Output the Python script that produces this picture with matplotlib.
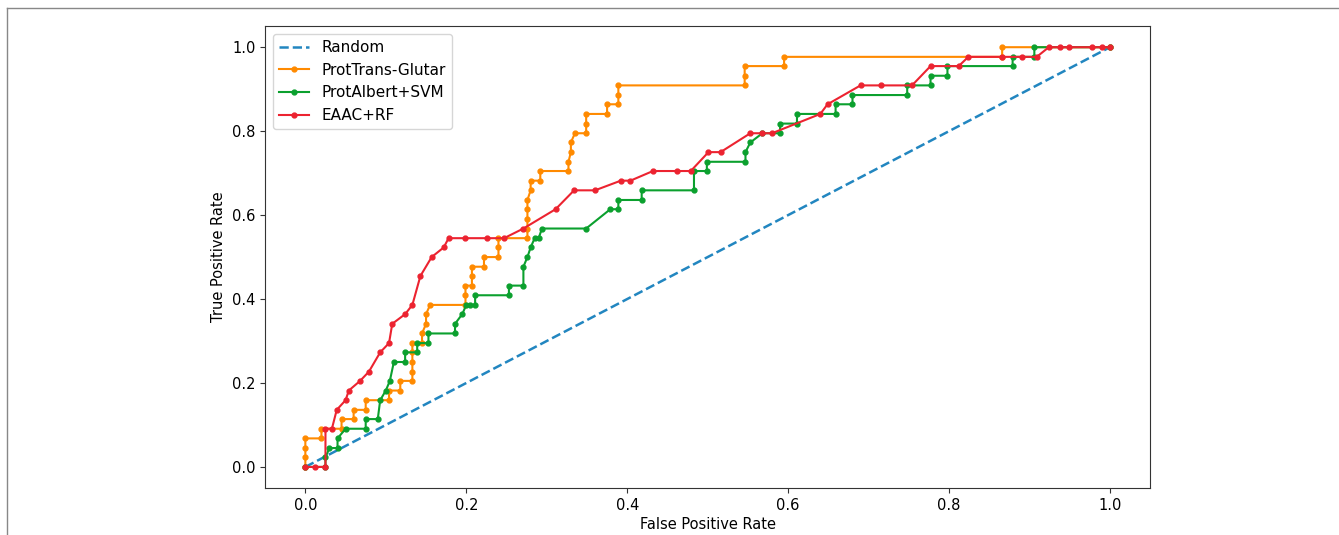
import matplotlib
matplotlib.use('Agg')
import matplotlib.pyplot as plt
from matplotlib.lines import Line2D

# --------------- ROC points -----------------------------------------

random_fpr = [0.0, 1.0]
random_tpr = [0.0, 1.0]

prottrans_fpr = [0.0, 0.0, 0.0, 0.0, 0.02, 0.02, 0.045, 0.045, 0.06, 0.06, 0.075, 0.075,
                 0.104, 0.104, 0.118, 0.118, 0.133, 0.133, 0.133, 0.133, 0.133, 0.145, 0.145,
                 0.15, 0.15, 0.155, 0.199, 0.199, 0.199, 0.207, 0.207, 0.207, 0.222, 0.222,
                 0.24, 0.24, 0.24, 0.276, 0.276, 0.276, 0.276, 0.276, 0.28, 0.28, 0.292, 0.292,
                 0.327, 0.327, 0.33, 0.33, 0.335, 0.349, 0.349, 0.349, 0.375, 0.375, 0.389,
                 0.389, 0.389, 0.546, 0.546, 0.546, 0.595, 0.595, 0.866, 0.866, 1.0]
prottrans_tpr = [0.0, 0.023, 0.045, 0.068, 0.068, 0.091, 0.091, 0.114, 0.114, 0.136, 0.136, 0.159,
                 0.159, 0.182, 0.182, 0.205, 0.205, 0.227, 0.25, 0.273, 0.295, 0.295, 0.318,
                 0.341, 0.364, 0.386, 0.386, 0.409, 0.432, 0.432, 0.455, 0.477, 0.477, 0.5,
                 0.5, 0.523, 0.545, 0.545, 0.568, 0.591, 0.614, 0.636, 0.659, 0.682, 0.682, 0.705,
                 0.705, 0.727, 0.75, 0.773, 0.795, 0.795, 0.818, 0.841, 0.841, 0.864, 0.864,
                 0.886, 0.909, 0.909, 0.932, 0.955, 0.955, 0.977, 0.977, 1.0, 1.0]

protalbert_fpr = [0.0, 0.025, 0.025, 0.03, 0.04, 0.04, 0.05, 0.075, 0.075, 0.09, 0.093, 0.1,
                  0.105, 0.11, 0.124, 0.124, 0.139, 0.139, 0.153, 0.153, 0.186, 0.186, 0.195,
                  0.2, 0.205, 0.211, 0.211, 0.253, 0.253, 0.271, 0.271, 0.276, 0.28, 0.285,
                  0.29, 0.294, 0.349, 0.379, 0.389, 0.389, 0.418, 0.418, 0.483, 0.483, 0.499,
                  0.499, 0.547, 0.547, 0.553, 0.568, 0.59, 0.59, 0.611, 0.611, 0.659, 0.659,
                  0.68, 0.68, 0.748, 0.748, 0.777, 0.777, 0.798, 0.798, 0.879, 0.879, 0.906,
                  0.906, 1.0]
protalbert_tpr = [0.0, 0.0, 0.023, 0.045, 0.045, 0.068, 0.091, 0.091, 0.114, 0.114, 0.159, 0.182,
                  0.205, 0.25, 0.25, 0.273, 0.273, 0.295, 0.295, 0.318, 0.318, 0.341, 0.364,
                  0.386, 0.386, 0.386, 0.409, 0.409, 0.432, 0.432, 0.477, 0.5, 0.523, 0.545,
                  0.545, 0.568, 0.568, 0.614, 0.614, 0.636, 0.636, 0.659, 0.659, 0.705, 0.705,
                  0.727, 0.727, 0.75, 0.773, 0.795, 0.795, 0.818, 0.818, 0.841, 0.841, 0.864,
                  0.864, 0.886, 0.886, 0.909, 0.909, 0.932, 0.932, 0.955, 0.955, 0.977, 0.977,
                  1.0, 1.0]

eaac_fpr = [0.0, 0.012, 0.025, 0.025, 0.033, 0.039, 0.05, 0.054, 0.068, 0.079, 0.093, 0.104,
            0.108, 0.124, 0.133, 0.143, 0.157, 0.172, 0.178, 0.199, 0.226, 0.247, 0.271,
            0.311, 0.334, 0.36, 0.392, 0.404, 0.432, 0.462, 0.479, 0.501, 0.516, 0.553, 0.568,
            0.58, 0.64, 0.649, 0.69, 0.715, 0.754, 0.777, 0.812, 0.824, 0.866, 0.891, 0.909,
            0.924, 0.938, 0.949, 0.978, 0.99, 1.0]
eaac_tpr = [0.0, 0.0, 0.0, 0.091, 0.091, 0.136, 0.159, 0.182, 0.205, 0.227, 0.273, 0.295,
            0.341, 0.364, 0.386, 0.455, 0.5, 0.523, 0.545, 0.545, 0.545, 0.545, 0.568,
            0.614, 0.659, 0.659, 0.682, 0.682, 0.705, 0.705, 0.705, 0.75, 0.75, 0.795, 0.795,
            0.795, 0.841, 0.864, 0.909, 0.909, 0.909, 0.955, 0.955, 0.977, 0.977, 0.977, 0.977,
            1.0, 1.0, 1.0, 1.0, 1.0, 1.0]


def plot_roc():

    fig = plt.figure(figsize=(13.39, 5.35), dpi=100)
    ax = fig.add_axes([0.198, 0.088, 0.661, 0.863])

    ax.plot(random_fpr, random_tpr, linestyle='--', color='#2286c0', linewidth=1.8, label='Random')
    ax.plot(prottrans_fpr, prottrans_tpr, marker='.', color='#ff8a00', linewidth=1.5,
            markersize=7, label='ProtTrans-Glutar')
    ax.plot(protalbert_fpr, protalbert_tpr, marker='.', color='#0ba02e', linewidth=1.5,
            markersize=7, label='ProtAlbert+SVM')
    ax.plot(eaac_fpr, eaac_tpr, marker='.', color='#ec2330', linewidth=1.5,
            markersize=7, label='EAAC+RF')

    ax.set_xlim(-0.05, 1.05)
    ax.set_ylim(-0.05, 1.05)
    ax.set_xticks([0.0, 0.2, 0.4, 0.6, 0.8, 1.0])
    ax.set_yticks([0.0, 0.2, 0.4, 0.6, 0.8, 1.0])
    ax.tick_params(labelsize=10.5, color='#333333')
    for spine in ax.spines.values():
        spine.set_color('#333333')
    ax.set_xlabel('False Positive Rate', fontsize=10.5, labelpad=3)
    ax.set_ylabel('True Positive Rate', fontsize=10.5)
    ax.legend(loc='upper left', fontsize=11)

    # thin page border seen at top and left of the reference
    fig.add_artist(Line2D([7 / 1339, 1.0], [1 - 8 / 535, 1 - 8 / 535], color='#888888', linewidth=1))
    fig.add_artist(Line2D([7 / 1339, 7 / 1339], [0.0, 1 - 8 / 535], color='#888888', linewidth=1))

    fig.savefig('out.png', dpi=100)


plot_roc()
